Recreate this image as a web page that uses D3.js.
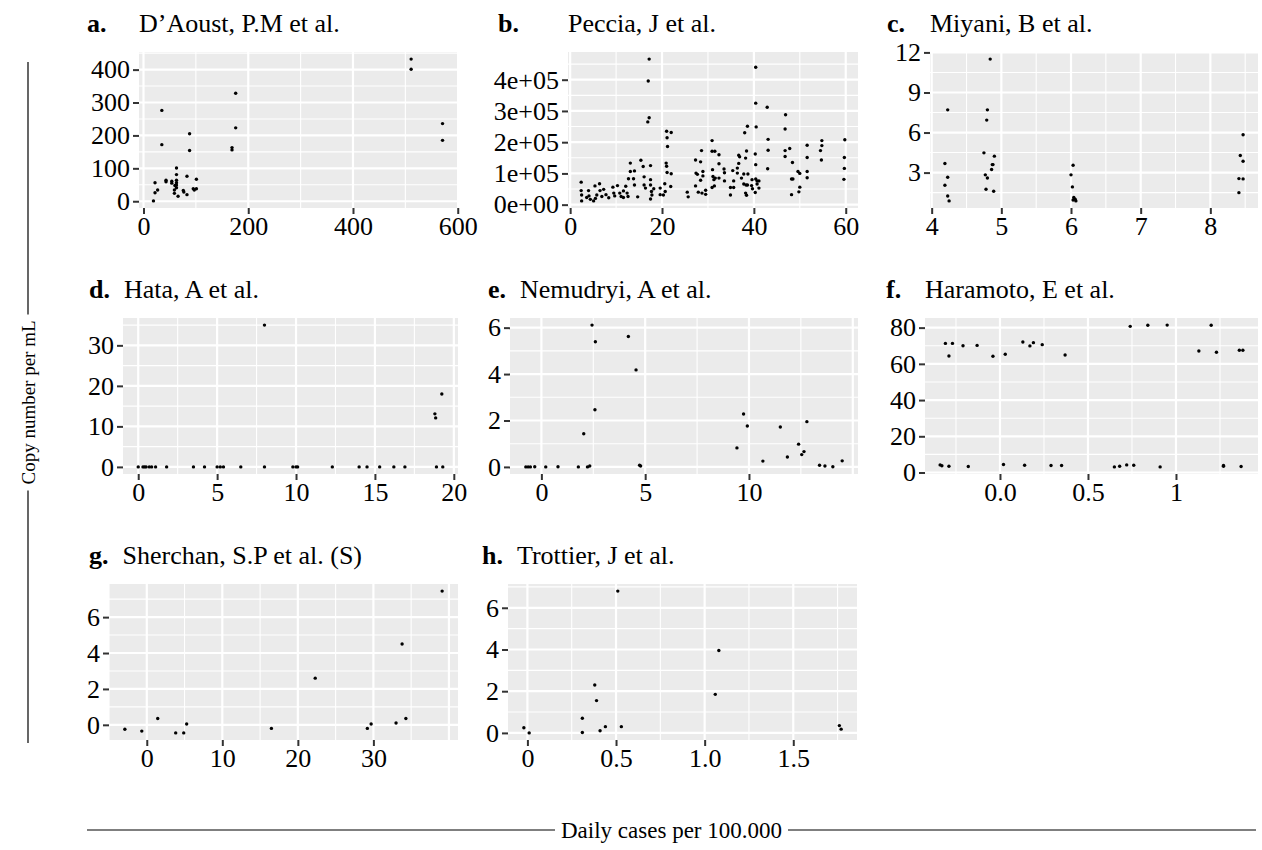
<!DOCTYPE html>
<html>
<head>
<meta charset="utf-8">
<script src="https://cdn.jsdelivr.net/npm/d3@7"></script>
<style>
  body { margin: 0; background: #fff; }
  svg { display: block; }
  svg text { font-family: "Liberation Serif", "Times New Roman", serif; fill: #000; }
</style>
</head>
<body>
<svg id="chart" width="1262" height="850"></svg>
<script>
// [A] Datos por panel -------------------------------------------------------
// a. D'Aoust
const aoustX = [511, 511, 571, 571, 176, 176, 169, 169, 35, 35, 88, 88, 63, 63, 83, 101, 43, 43, 54, 54,
    63, 63, 63, 63, 22, 22, 27, 19, 59, 59, 76, 77, 66, 83, 95, 101, 97, 60];
const aoustY = [432, 401, 236, 185, 328, 223, 163, 156, 276, 172, 205, 154, 101, 81, 76, 67, 64, 59, 61, 55,
    64, 56, 49, 41, 56, 26, 34, 1, 34, 24, 33, 28, 15, 20, 38, 38, 34, 48];
const aoustXTicks = [0, 200, 400, 600];
const aoustYTicks = [0, 100, 200, 300, 400];

// b. Peccia
const pecciaX = [17.2, 17.0, 17.2, 16.9, 21.0, 22.0, 21.1, 21.2, 40.4, 40.4, 42.9, 40.5, 38.6, 38.0, 46.9, 46.8, 30.9, 43.1, 43.1, 43.0,
    28.6, 27.3, 28.4, 27.4, 27.7, 28.9, 28.9, 28.4, 27.3, 27.9, 28.7, 29.5, 29.5, 25.5, 25.7, 30.9, 31.5, 32.4, 32.4, 31.0,
    31.1, 31.6, 32.4, 31.3, 33.5, 33.6, 33.6, 31.4, 30.9, 35.4, 36.4, 35.6, 34.9, 35.6, 34.9, 36.7, 36.9, 36.7, 36.4, 38.4,
    38.2, 37.8, 38.7, 37.3, 37.8, 38.3, 38.6, 38.2, 38.4, 39.6, 39.5, 39.7, 40.3, 40.4, 40.4, 40.7, 41.1, 40.7, 41.1, 40.3,
    2.4, 2.4, 2.5, 2.5, 4.0, 4.1, 4.4, 5.1, 5.4, 5.8, 6.4, 6.5, 6.9, 7.3, 7.8, 8.4, 9.3, 9.5, 9.7, 10.3,
    10.8, 11.1, 11.6, 12.1, 12.4, 12.6, 12.7, 13.1, 13.1, 14.0, 14.0, 14.7, 15.4, 15.9, 16.1, 16.1, 16.4, 17.5, 17.5, 17.5,
    17.7, 17.5, 17.8, 18.2, 19.6, 19.6, 20.3, 20.6, 20.9, 21.0, 21.1, 22.0, 21.9, 20.7, 13.8, 11.6, 5.5, 3.6,
    46.8, 46.8, 47.8, 48.4, 48.2, 48.5, 48.2, 49.6, 50.0, 49.8, 50.0, 51.6, 51.6, 51.6, 51.6, 54.5, 54.8, 54.8, 54.7,
    59.8, 59.7, 59.7, 59.6];
const pecciaY = [466000, 396000, 278000, 265000, 235000, 231000, 214000, 186000, 440000, 325000, 312000, 249000, 251000, 230000, 288000, 242000, 205000, 209000, 174000, 115000,
    173000, 143000, 137000, 101000, 97000, 106000, 92000, 78000, 60000, 40000, 37000, 33000, 46000, 40000, 25000, 171000, 171000, 160000, 131000, 112000,
    90000, 85000, 85000, 80000, 114000, 102000, 76000, 60000, 55000, 109000, 101000, 76000, 55000, 55000, 31000, 158000, 153000, 132000, 117000, 172000,
    149000, 98000, 98000, 85000, 66000, 63000, 63000, 37000, 30000, 80000, 61000, 51000, 162000, 128000, 82000, 76000, 76000, 66000, 53000, 39000,
    72000, 45000, 31000, 12000, 45000, 28000, 17000, 12000, 60000, 31000, 67000, 45000, 26000, 49000, 32000, 22000, 56000, 37000, 28000, 61000,
    37000, 26000, 44000, 59000, 37000, 26000, 83000, 106000, 133000, 108000, 63000, 25000, 142000, 122000, 89000, 63000, 53000, 125000, 80000, 63000,
    42000, 18000, 31000, 51000, 53000, 32000, 31000, 67000, 133000, 123000, 103000, 99000, 58000, 42000, 83000, 23000, 20000, 23000,
    173000, 154000, 180000, 135000, 82000, 82000, 32000, 106000, 100000, 41000, 56000, 190000, 151000, 106000, 86000, 173000, 205000, 189000, 143000,
    208000, 151000, 116000, 81000];
const pecciaXTicks = [0, 20, 40, 60];
const pecciaYTicks = [0, 100000, 200000, 300000, 400000];
const pecciaYLabels = ["0e+00", "1e+05", "2e+05", "3e+05", "4e+05"];

// c. Miyani
const miyaniX = [4.23, 4.19, 4.23, 4.19, 4.23, 4.25, 4.84, 4.80, 4.79, 4.75, 4.90, 4.87, 4.88, 4.86, 4.77, 4.80, 4.78, 4.89,
    6.03, 6.00, 6.02, 6.04, 6.06, 6.03, 6.07, 8.47, 8.43, 8.47, 8.41, 8.47, 8.41];
const miyaniY = [7.7, 3.68, 2.65, 2.05, 1.25, 0.88, 11.5, 7.7, 6.93, 4.48, 4.23, 3.6, 3.6, 3.23, 2.83, 2.6, 1.75, 1.6,
    3.55, 2.83, 1.93, 1.13, 1.0, 0.95, 0.88, 5.83, 4.28, 3.85, 2.55, 2.53, 1.5];
const miyaniXTicks = [4, 5, 6, 7, 8];
const miyaniYTicks = [3, 6, 9, 12];

// d. Hata
const hataX = [8.0, 19.24, 18.8, 18.85, 0.0, 0.3, 0.4, 0.5, 0.7, 0.85, 1.1, 1.8, 3.5, 4.2, 5.0, 5.2, 5.4, 6.5, 8.0, 9.8,
    10.0, 10.1, 12.3, 14.0, 14.5, 15.3, 16.2, 16.9, 18.9, 19.3];
const hataY = [35.0, 18.0, 13.1, 12.1, 0, 0, 0, 0, 0, 0, 0, 0, 0, 0, 0, 0, 0, 0, 0, 0,
    0, 0, 0, 0, 0, 0, 0, 0, 0, 0];
const hataXTicks = [0, 5, 10, 15, 20];
const hataYTicks = [0, 10, 20, 30];

// e. Nemudryi
const nemudryiX = [2.44, 2.60, 4.19, 4.56, 2.58, 2.04, -0.75, -0.64, -0.53, -0.32, 0.21, 0.80, 1.78, 2.22, 2.33, 4.73, 4.78,
    9.74, 9.92, 9.42, 10.67, 11.51, 11.85, 12.39, 12.79, 12.54, 12.65, 13.40, 13.66, 14.04, 14.49];
const nemudryiY = [6.11, 5.39, 5.62, 4.18, 2.46, 1.43, 0, 0, 0, 0.01, 0, 0.01, 0, 0, 0.04, 0.07, 0.04,
    2.28, 1.76, 0.82, 0.25, 1.72, 0.43, 0.98, 1.95, 0.53, 0.66, 0.07, 0.04, 0.01, 0.26];
const nemudryiXTicks = [0, 5, 10];
const nemudryiXGrid = [0, 5, 10, 15];
const nemudryiYTicks = [0, 2, 4, 6];

// f. Haramoto
const haramotoX = [-0.34, -0.33, -0.31, -0.27, -0.29, -0.29, -0.21, -0.18, -0.13, -0.04, 0.02, 0.03, 0.13, 0.14, 0.17, 0.19, 0.24, 0.29,
    0.35, 0.37, 0.65, 0.68, 0.72, 0.74, 0.76, 0.84, 0.91, 0.95, 1.13, 1.20, 1.23, 1.27, 1.27, 1.36, 1.38, 1.37];
const haramotoY = [4.2, 3.7, 71.3, 71.3, 64.3, 3.5, 70.0, 3.3, 70.2, 64.2, 4.4, 65.3, 72.1, 4.0, 69.9, 71.7, 70.6, 3.9,
    3.9, 64.9, 3.1, 3.5, 4.2, 80.7, 4.0, 81.3, 3.1, 81.4, 67.1, 81.3, 66.4, 3.5, 3.9, 67.5, 67.5, 3.3];
const haramotoXTicks = [0, 0.5, 1];
const haramotoXLabels = ["0.0", "0.5", "1"];
const haramotoYTicks = [0, 20, 40, 60, 80];

// g. Sherchan
const sherchanX = [-2.9, -0.66, 1.45, 3.83, 4.89, 5.28, 16.5, 29.2, 29.7, 33.0, 34.3, 22.3, 33.8, 39.1];
const sherchanY = [-0.25, -0.35, 0.35, -0.45, -0.45, 0.05, -0.2, -0.2, 0.05, 0.1, 0.35, 2.6, 4.5, 7.45];
const sherchanXTicks = [0, 10, 20, 30];
const sherchanXGrid = [0, 10, 20, 30, 40];
const sherchanYTicks = [0, 2, 4, 6];

// h. Trottier
const trottierX = [-0.02, 0.01, 0.31, 0.31, 0.38, 0.39, 0.41, 0.44, 0.51, 0.53, 1.06, 1.08, 1.76, 1.77];
const trottierY = [0.25, 0.0, 0.7, 0.02, 2.3, 1.55, 0.1, 0.3, 6.8, 0.3, 1.85, 3.95, 0.35, 0.18];
const trottierXTicks = [0, 0.5, 1, 1.5];
const trottierXLabels = ["0", "0.5", "1.0", "1.5"];
const trottierYTicks = [0, 2, 4, 6];

const panelTags = ["a.", "b.", "c.", "d.", "e.", "f.", "g.", "h."];
const panelTitles = ["D’Aoust, P.M et al.", "Peccia, J et al.", "Miyani, B et al.", "Hata, A et al.",
    "Nemudryi, A et al.", "Haramoto, E et al.", "Sherchan, S.P et al. (S)", "Trottier, J et al."];

const yTitle = "Copy number per mL";
const xTitle = "Daily cases per 100.000";

// [B] Paneles (tabla armada con los arrays) -----------------------------------
const panels = [
    { x: aoustX, y: aoustY, xTicks: aoustXTicks, yTicks: aoustYTicks },
    { x: pecciaX, y: pecciaY, xTicks: pecciaXTicks, yTicks: pecciaYTicks, yLabels: pecciaYLabels },
    { x: miyaniX, y: miyaniY, xTicks: miyaniXTicks, yTicks: miyaniYTicks },
    { x: hataX, y: hataY, xTicks: hataXTicks, yTicks: hataYTicks },
    { x: nemudryiX, y: nemudryiY, xTicks: nemudryiXTicks, yTicks: nemudryiYTicks, xGrid: nemudryiXGrid },
    { x: haramotoX, y: haramotoY, xTicks: haramotoXTicks, yTicks: haramotoYTicks, xLabels: haramotoXLabels },
    { x: sherchanX, y: sherchanY, xTicks: sherchanXTicks, yTicks: sherchanYTicks, xGrid: sherchanXGrid },
    { x: trottierX, y: trottierY, xTicks: trottierXTicks, yTicks: trottierYTicks, xLabels: trottierXLabels }
];

// [C] Layout ---------------------------------------------------------------
const panelBox = [[139, 457], [568, 858], [930, 1258], [123, 458], [510, 858], [925, 1258], [109, 458], [508, 857]];
const tagX = [87, 498, 887, 89, 488, 886, 89, 482];
const rowTop = [52, 318, 584];
const plotH = 156;
const titleBase = [32, 298, 564];
const fontSize = 26;
const tickLen = 6;
const serif = '"Liberation Serif", "Times New Roman", serif';

const svg = d3.select("#chart");

// expansión tipo ggplot (5% a cada lado)
function expand(vals) {
    const [lo, hi] = d3.extent(vals);
    const pad = (hi - lo) * 0.05;
    return [lo - pad, hi + pad];
}

// cortes menores en los puntos medios
function minorBreaks(ticks, domain) {
    const step = ticks[1] - ticks[0];
    const ext = [ticks[0] - step, ...ticks, ticks[ticks.length - 1] + step];
    return d3.pairs(ext, (a, b) => (a + b) / 2).filter(v => v >= domain[0] && v <= domain[1]);
}

// [D] Dibuja cada panel -----------------------------------------------------
panels.forEach((p, i) => {
    const row = Math.floor(i / 3);
    const [left, right] = panelBox[i];
    const top = rowTop[row], bottom = top + plotH;

    const x = d3.scaleLinear().domain(expand(p.x)).range([left, right]);
    const y = d3.scaleLinear().domain(expand(p.y)).range([bottom, top]);
    const xGrid = (p.xGrid || p.xTicks).filter(v => v >= x.domain()[0] && v <= x.domain()[1]);

    const g = svg.append("g");

    g.append("rect")
        .attr("x", left).attr("y", top)
        .attr("width", right - left).attr("height", plotH)
        .attr("fill", "#EBEBEB");

    // grilla menor
    g.selectAll(".vmin").data(minorBreaks(p.xGrid || p.xTicks, x.domain())).join("line")
        .attr("x1", d => x(d)).attr("x2", d => x(d)).attr("y1", top).attr("y2", bottom)
        .attr("stroke", "#fff").attr("stroke-width", 1.1);
    g.selectAll(".hmin").data(minorBreaks(p.yTicks, y.domain())).join("line")
        .attr("y1", d => y(d)).attr("y2", d => y(d)).attr("x1", left).attr("x2", right)
        .attr("stroke", "#fff").attr("stroke-width", 1.1);

    // grilla mayor
    g.selectAll(".vmaj").data(xGrid).join("line")
        .attr("x1", d => x(d)).attr("x2", d => x(d)).attr("y1", top).attr("y2", bottom)
        .attr("stroke", "#fff").attr("stroke-width", 2.2);
    g.selectAll(".hmaj").data(p.yTicks).join("line")
        .attr("y1", d => y(d)).attr("y2", d => y(d)).attr("x1", left).attr("x2", right)
        .attr("stroke", "#fff").attr("stroke-width", 2.2);

    // ejes
    const xAxis = d3.axisBottom(x).tickValues(p.xTicks).tickSize(tickLen).tickPadding(3)
        .tickFormat((d, j) => p.xLabels ? p.xLabels[j] : String(d));
    const yAxis = d3.axisLeft(y).tickValues(p.yTicks).tickSize(tickLen).tickPadding(3)
        .tickFormat((d, j) => p.yLabels ? p.yLabels[j] : String(d));

    const gx = g.append("g").attr("transform", `translate(0,${bottom})`).call(xAxis);
    const gy = g.append("g").attr("transform", `translate(${left},0)`).call(yAxis);
    [gx, gy].forEach(a => {
        a.attr("font-family", serif).attr("font-size", fontSize);
        a.select(".domain").remove();
        a.selectAll(".tick line").attr("stroke", "#333").attr("stroke-width", 2);
        a.selectAll(".tick text").style("font-family", serif).attr("font-size", fontSize);
    });

    // puntos
    g.selectAll("circle").data(d3.zip(p.x, p.y)).join("circle")
        .attr("cx", d => x(d[0])).attr("cy", d => y(d[1]))
        .attr("r", 1.7).attr("fill", "#000");

    // título: etiqueta en negrita + autor
    const tag = svg.append("text")
        .attr("x", tagX[i]).attr("y", titleBase[row])
        .attr("font-size", fontSize).attr("font-weight", "bold")
        .text(panelTags[i]);
    const tagEnd = tagX[i] + tag.node().getComputedTextLength();
    svg.append("text")
        .attr("x", Math.max(left, tagEnd + 14)).attr("y", titleBase[row])
        .attr("font-size", fontSize)
        .text(panelTitles[i]);
});

// [E] Títulos de ejes con líneas ---------------------------------------------
const gap = 6;

// eje Y (vertical)
const yLineX = 28, yLineTop = 62, yLineBottom = 743;
const yMid = (yLineTop + yLineBottom) / 2;
const yText = svg.append("text")
    .attr("transform", `translate(${yLineX},${yMid}) rotate(-90)`)
    .attr("text-anchor", "middle").attr("dy", "0.35em")
    .attr("font-size", 19)
    .text(yTitle);
const yLen = yText.node().getComputedTextLength();
svg.append("line").attr("x1", yLineX).attr("x2", yLineX)
    .attr("y1", yLineTop).attr("y2", yMid - yLen / 2 - gap)
    .attr("stroke", "#000").attr("stroke-width", 1.2);
svg.append("line").attr("x1", yLineX).attr("x2", yLineX)
    .attr("y1", yMid + yLen / 2 + gap).attr("y2", yLineBottom)
    .attr("stroke", "#000").attr("stroke-width", 1.2);

// eje X (horizontal)
const xLineY = 830, xLineLeft = 87, xLineRight = 1256;
const xMid = (xLineLeft + xLineRight) / 2;
const xText = svg.append("text")
    .attr("x", xMid).attr("y", xLineY)
    .attr("text-anchor", "middle").attr("dy", "0.35em")
    .attr("font-size", 23)
    .text(xTitle);
const xLen = xText.node().getComputedTextLength();
svg.append("line").attr("y1", xLineY).attr("y2", xLineY)
    .attr("x1", xLineLeft).attr("x2", xMid - xLen / 2 - gap)
    .attr("stroke", "#000").attr("stroke-width", 1.2);
svg.append("line").attr("y1", xLineY).attr("y2", xLineY)
    .attr("x1", xMid + xLen / 2 + gap).attr("x2", xLineRight)
    .attr("stroke", "#000").attr("stroke-width", 1.2);
</script>
</body>
</html>
